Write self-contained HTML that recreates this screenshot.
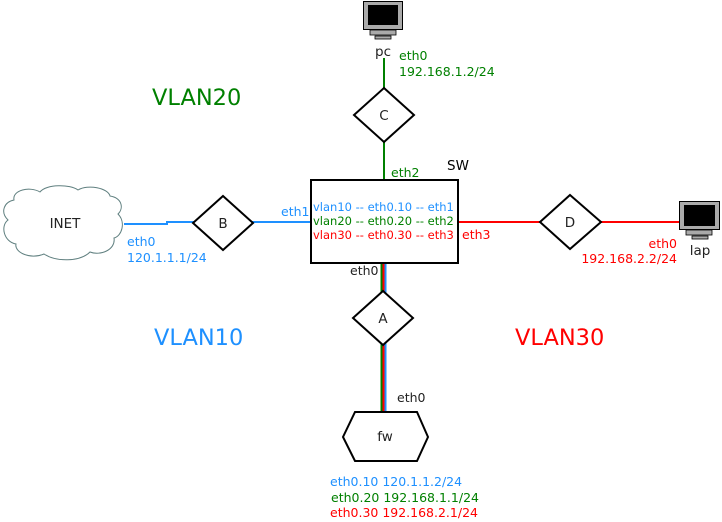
<!DOCTYPE html>
<html><head><meta charset="utf-8"><style>
html,body{margin:0;padding:0;background:#fff;}
svg{display:block;}
text{font-family:"DejaVu Sans","Liberation Sans",sans-serif;font-size:12.5px;}
.n{font-size:13.5px;}
</style></head><body>
<svg width="722" height="522" viewBox="0 0 722 522" xmlns="http://www.w3.org/2000/svg">
<line x1="384" y1="58" x2="384" y2="180" stroke="#008000" stroke-width="2"/>
<polyline points="124,224 167,224 167,222 311,222" fill="none" stroke="#1e90ff" stroke-width="2"/>
<line x1="458" y1="222" x2="680" y2="222" stroke="#ff0000" stroke-width="2"/>
<g stroke-width="2">
<line x1="381.5" y1="263" x2="381.5" y2="412" stroke="#008000"/>
<line x1="383.5" y1="263" x2="383.5" y2="412" stroke="#ff0000"/>
<line x1="385.5" y1="263" x2="385.5" y2="412" stroke="#1e90ff"/>
</g>
<g fill="#fff" stroke="#000" stroke-width="2">
<polygon points="384,88 414,115 384,142 354,115"/>
<polygon points="223,196 253,223 223,250 193,223"/>
<polygon points="570,195 601,222 570,249 540,222"/>
<polygon points="383,291 413,318 383,345 353,318"/>
<rect x="311" y="180" width="147" height="83"/>
<polygon points="355,412 417,412 428,437 417,461 355,461 343,437"/>
</g>
<path d="M14,200 C12,190 30,186 40,192 C46,184 70,184 78,190 C88,184 108,188 110,196 C122,198 124,208 118,214 C126,222 122,236 114,238 C116,250 100,256 90,252 C80,262 56,262 44,254 C30,260 14,252 16,244 C4,242 0,226 8,220 C0,212 4,202 14,200 Z" fill="#fff" stroke="#5f7f7f" stroke-width="1"/>
<g>
<rect x="363.5" y="1.5" width="39" height="28" fill="#aaa" stroke="#000"/>
<rect x="368" y="5" width="30" height="20" fill="#000"/>
<rect x="370" y="30" width="26" height="5" fill="#aaa" stroke="#000" stroke-width="0.8"/>
<rect x="375" y="36" width="16" height="3" fill="#aaa" stroke="#000" stroke-width="0.8"/>
</g>
<g>
<rect x="679.5" y="201.5" width="40" height="28" fill="#aaa" stroke="#000"/>
<rect x="684" y="205" width="31" height="21" fill="#000"/>
<rect x="686" y="230" width="26" height="5" fill="#aaa" stroke="#000" stroke-width="0.8"/>
<rect x="692" y="236" width="16" height="3" fill="#aaa" stroke="#000" stroke-width="0.8"/>
</g>
<text x="383" y="56" text-anchor="middle" fill="#222" class="n">pc</text>
<text x="399" y="60" fill="#008000">eth0</text>
<text x="399" y="76" fill="#008000">192.168.1.2/24</text>
<text x="384" y="120" text-anchor="middle" fill="#222" class="n">C</text>
<text x="391" y="177" fill="#008000">eth2</text>
<text x="447" y="170" fill="#000" style="font-size:13.5px">SW</text>
<text x="313" y="211" fill="#1e90ff" style="font-size:11.5px">vlan10 -- eth0.10 -- eth1</text>
<text x="313" y="225" fill="#008000" style="font-size:11.5px">vlan20 -- eth0.20 -- eth2</text>
<text x="313" y="239" fill="#ff0000" style="font-size:11.5px">vlan30 -- eth0.30 -- eth3</text>
<text x="281" y="216" fill="#1e90ff">eth1</text>
<text x="462" y="239" fill="#ff0000">eth3</text>
<text x="350" y="275" fill="#222">eth0</text>
<text x="223" y="228" text-anchor="middle" fill="#222" class="n">B</text>
<text x="570" y="227" text-anchor="middle" fill="#222" class="n">D</text>
<text x="383" y="323" text-anchor="middle" fill="#222" class="n">A</text>
<text x="65" y="228" text-anchor="middle" fill="#222" class="n">INET</text>
<text x="127" y="246" fill="#1e90ff">eth0</text>
<text x="127" y="262" fill="#1e90ff">120.1.1.1/24</text>
<text x="677" y="248" text-anchor="end" fill="#ff0000">eth0</text>
<text x="677" y="263" text-anchor="end" fill="#ff0000">192.168.2.2/24</text>
<text x="700" y="255" text-anchor="middle" fill="#222" class="n">lap</text>
<text x="397" y="402" fill="#222">eth0</text>
<text x="385" y="441" text-anchor="middle" fill="#222" class="n">fw</text>
<text x="330" y="486" fill="#1e90ff">eth0.10 120.1.1.2/24</text>
<text x="331" y="502" fill="#008000">eth0.20 192.168.1.1/24</text>
<text x="330" y="517" fill="#ff0000">eth0.30 192.168.2.1/24</text>
<text x="152" y="105" fill="#008000" style="font-size:22.5px">VLAN20</text>
<text x="154" y="345" fill="#1e90ff" style="font-size:22.5px">VLAN10</text>
<text x="515" y="345" fill="#ff0000" style="font-size:22.5px">VLAN30</text>
</svg>
</body></html>
